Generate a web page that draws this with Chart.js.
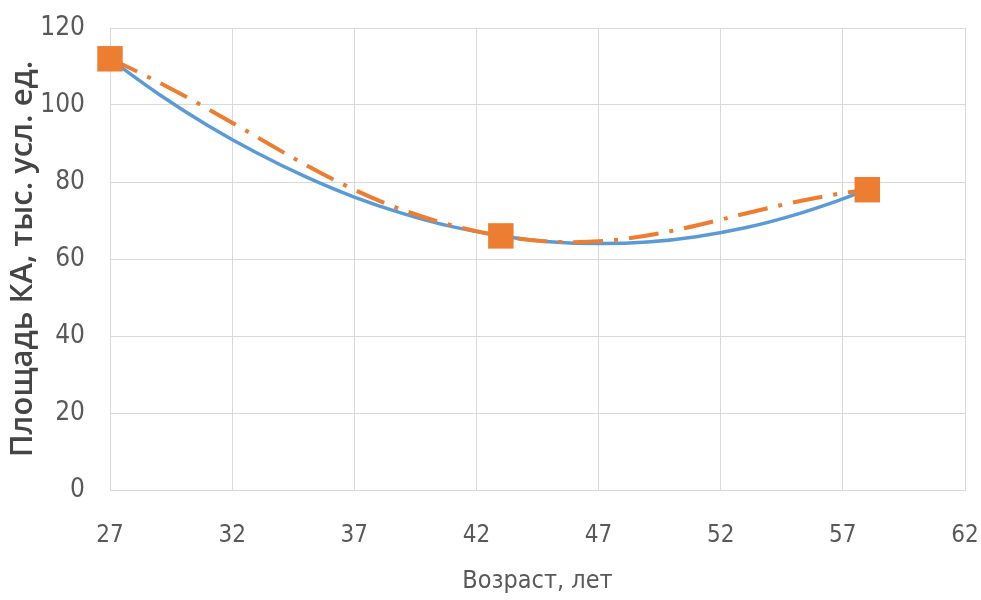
<!DOCTYPE html>
<html>
<head>
<meta charset="utf-8">
<script src="https://cdn.jsdelivr.net/npm/chart.js@4/dist/chart.umd.min.js"></script>
<style>
    html, body { margin: 0; padding: 0; background: #ffffff; }
    #wrap { width: 981px; height: 600px; }
</style>
</head>
<body>
<div id="wrap"><canvas id="areaChart" width="981" height="600"></canvas></div>
<script>
// measured points
const ages = [27, 43, 58];
const areas = [112, 66, 78];

// polynomial trend line
const trendAges = [27, 29, 31, 33, 35, 37, 39, 41, 43, 45, 47, 49, 51, 53, 55, 57, 58];
const trendAreas = [111.9, 102.8, 94.7, 87.6, 81.4, 76.1, 71.8, 68.4, 66.0, 64.5, 64.0, 64.4, 65.8, 68.1, 71.4, 75.6, 78.1];

// axis ticks
const xTicks = [27, 32, 37, 42, 47, 52, 57, 62];
const yTicks = [0, 20, 40, 60, 80, 100, 120];

const xTitle = 'Возраст, лет';
const yTitle = 'Площадь КА, тыс. усл. ед.';

const Plot = (() => {
    let chart = null;

    const gray = '#595959';
    const gridColor = '#d9d9d9';
    const narrow = "'Liberation Sans Narrow', 'DejaVu Sans Condensed', Roboto, sans-serif";

    function points(xs, ys) {
        return xs.map((x, i) => ({ x: x, y: ys[i] }));
    }

    // keep the plot area where the layout padding puts it
    function noEdgePadding(scale) {
        scale.paddingTop = 0;
        scale.paddingBottom = 0;
        scale.paddingLeft = 0;
        scale.paddingRight = 0;
    }

    function draw() {
        const ctx = document.getElementById('areaChart');
        if (chart) chart.destroy();

        chart = new Chart(ctx, {
            type: 'line',
            data: {
                datasets: [
                    {
                        label: 'Тренд',
                        data: points(trendAges, trendAreas),
                        borderColor: '#5b9bd5',
                        borderWidth: 3.5,
                        pointRadius: 0,
                        tension: 0.4,
                        fill: false,
                        order: 2
                    },
                    {
                        label: 'Площадь КА',
                        data: points(ages, areas),
                        borderColor: '#ed7d31',
                        backgroundColor: '#ed7d31',
                        borderWidth: 4,
                        borderDash: [30, 11, 4, 11],
                        pointStyle: 'rect',
                        pointRadius: 18,
                        pointBorderWidth: 0,
                        pointBackgroundColor: '#ed7d31',
                        tension: 0.4,
                        fill: false,
                        clip: false,
                        order: 1
                    }
                ]
            },
            options: {
                responsive: false,
                animation: false,
                layout: { autoPadding: false, padding: { top: 28, right: 16, left: 0, bottom: 0 } },
                plugins: {
                    legend: { display: false },
                    tooltip: { enabled: false }
                },
                scales: {
                    x: {
                        type: 'linear',
                        min: xTicks[0],
                        max: xTicks[xTicks.length - 1],
                        afterFit: (scale) => { scale.height = 110; noEdgePadding(scale); },
                        afterBuildTicks: (scale) => { scale.ticks = xTicks.map(v => ({ value: v })); },
                        ticks: {
                            color: gray,
                            padding: 31,
                            font: { family: narrow, size: 24 }
                        },
                        grid: { color: gridColor, lineWidth: 1, drawTicks: false },
                        border: { color: gridColor, width: 1 },
                        title: {
                            display: true,
                            text: xTitle,
                            color: gray,
                            padding: { top: 0, bottom: 4 },
                            font: { family: narrow, size: 25 }
                        }
                    },
                    y: {
                        min: yTicks[0],
                        max: yTicks[yTicks.length - 1],
                        afterFit: (scale) => { scale.width = 110; noEdgePadding(scale); },
                        afterBuildTicks: (scale) => { scale.ticks = yTicks.map(v => ({ value: v })); },
                        ticks: {
                            color: gray,
                            padding: 25,
                            font: { family: narrow, size: 26 }
                        },
                        grid: { color: gridColor, lineWidth: 1, drawTicks: false },
                        border: { color: gridColor, width: 1 },
                        title: {
                            display: true,
                            text: yTitle,
                            color: '#454545',
                            padding: { top: 5, bottom: 0 },
                            font: { family: "'Open Sans', sans-serif", size: 31, weight: '600' }
                        }
                    }
                }
            }
        });
    }

    return { draw };
})();

Plot.draw();
</script>
</body>
</html>
